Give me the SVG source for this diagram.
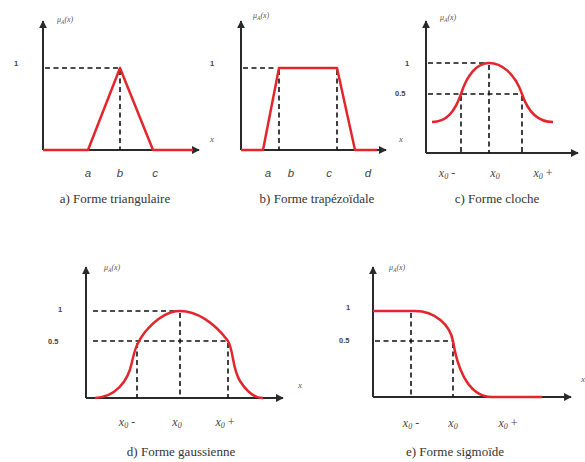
<svg xmlns="http://www.w3.org/2000/svg" width="585" height="462" viewBox="0 0 585 462">
<style>
.ax{stroke:#2a2a2a;stroke-width:2;fill:none;marker-end:url(#ah)}
.rd{stroke:#e2262c;stroke-width:2.5;fill:none;stroke-linejoin:round}
.ds{stroke:#111;stroke-width:1.6;stroke-dasharray:5,3.5;fill:none}
.num{font-family:"Liberation Sans",Arial,sans-serif;font-size:7.5px;font-weight:bold;fill:#444}
.mu{font-family:"Liberation Serif","Times New Roman",serif;font-size:8px;font-style:italic;fill:#555}
.xl{font-family:"Liberation Serif","Times New Roman",serif;font-size:9px;font-style:italic;fill:#555}
.tk{font-family:"Liberation Sans",Arial,sans-serif;font-size:11.5px;font-style:italic;fill:#444;text-anchor:middle}
.x0{font-family:"Liberation Serif","Times New Roman",serif;font-size:12px;font-style:italic;fill:#444;text-anchor:middle}
.cap{font-family:"Liberation Serif","Times New Roman",serif;font-size:13px;fill:#333;text-anchor:middle}
</style>
<defs>
<marker id="ah" viewBox="0 0 10 10" refX="9" refY="5" markerWidth="4" markerHeight="4" orient="auto" markerUnits="strokeWidth">
<path d="M0,0 L10,5 L0,10 z" fill="#2a2a2a"/>
</marker>
</defs>
<rect width="585" height="462" fill="#fff"/>

<g id="panel-a">
<path class="ax" d="M43,150 L43,21"/>
<path class="ax" d="M43,150 L199,150"/>
<path class="ds" d="M45,68 L118,68 M120,70 L120,150"/>
<path class="rd" d="M43,150 L88,150 L120,68 L153,150 L193,150"/>
<text class="num" x="14" y="66">1</text>
<text class="mu" x="57" y="22">μ<tspan font-size="5.5" dy="1.5">A</tspan><tspan dy="-1.5">(x)</tspan></text>
<text class="tk" x="88" y="177">a</text>
<text class="tk" x="120" y="177">b</text>
<text class="tk" x="155" y="177">c</text>
<text class="cap" x="115" y="203">a) Forme triangulaire</text>
</g>

<g id="panel-b">
<path class="ax" d="M241,150 L241,21"/>
<path class="ax" d="M241,150 L386,150"/>
<path class="ds" d="M243,68 L277,68 M279,70 L279,150 M337,70 L337,150"/>
<path class="rd" d="M241,150 L263,150 L279,68 L337,68 L355,150 L377,150"/>
<text class="num" x="210" y="66">1</text>
<text class="xl" x="210" y="142">x</text>
<text class="mu" x="253" y="18">μ<tspan font-size="5.5" dy="1.5">A</tspan><tspan dy="-1.5">(x)</tspan></text>
<text class="tk" x="268" y="177">a</text>
<text class="tk" x="291" y="177">b</text>
<text class="tk" x="329" y="177">c</text>
<text class="tk" x="368" y="177">d</text>
<text class="cap" x="317" y="203">b) Forme trapézoïdale</text>
</g>

<g id="panel-c">
<path class="ax" d="M426,153 L426,21"/>
<path class="ax" d="M426,153 L578,153"/>
<path class="ds" d="M428,63 L489,63 M428,94 L522,94 M461,96 L461,153 M489,65 L489,153 M522,96 L522,153"/>
<path class="rd" d="M432,122 C447,122 455,111 461,94 C467,75 477,63 489,63 C501,63 515,73 522,94 C528,112 538,122 553,122"/>
<text class="num" x="405" y="66">1</text>
<text class="num" x="395" y="96">0.5</text>
<text class="xl" x="399" y="142">x</text>
<text class="mu" x="440" y="20">μ<tspan font-size="5.5" dy="1.5">A</tspan><tspan dy="-1.5">(x)</tspan></text>
<text class="x0" x="447" y="177">x<tspan font-size="8" dy="2">0</tspan><tspan dy="-2" font-style="normal"> -</tspan></text>
<text class="x0" x="495" y="177">x<tspan font-size="8" dy="2">0</tspan></text>
<text class="x0" x="543" y="177">x<tspan font-size="8" dy="2">0</tspan><tspan dy="-2" font-style="normal"> +</tspan></text>
<text class="cap" x="497" y="203">c) Forme cloche</text>
</g>

<g id="panel-d">
<path class="ax" d="M86,398 L86,267"/>
<path class="ax" d="M86,398 L283,398"/>
<path class="ds" d="M93,311 L180,311 M93,341 L228,341 M137,343 L137,398 M180,313 L180,398 M228,343 L228,398"/>
<path class="rd" d="M95,398 C115,397 128,382 132,362 C135,348 138,341 145,332 C156,319 168,311 180,311 C196,311 214,322 228,341 C234,352 232,368 240,381 C247,392 255,398 263,398"/>
<text class="num" x="58" y="312">1</text>
<text class="num" x="48" y="344">0.5</text>
<text class="xl" x="298" y="388">x</text>
<text class="mu" x="104" y="270">μ<tspan font-size="5.5" dy="1.5">A</tspan><tspan dy="-1.5">(x)</tspan></text>
<text class="x0" x="127" y="426">x<tspan font-size="8" dy="2">0</tspan><tspan dy="-2" font-style="normal"> -</tspan></text>
<text class="x0" x="177" y="426">x<tspan font-size="8" dy="2">0</tspan></text>
<text class="x0" x="225" y="426">x<tspan font-size="8" dy="2">0</tspan><tspan dy="-2" font-style="normal"> +</tspan></text>
<text class="cap" x="181" y="456">d) Forme gaussienne</text>
</g>

<g id="panel-e">
<path class="ax" d="M373,397 L373,267"/>
<path class="ax" d="M373,397 L571,397"/>
<path class="ds" d="M375,341 L453,341 M411,313 L411,397 M453,343 L453,397"/>
<path class="rd" d="M373,311 L415,311 C435,311 450,325 453,341 C456,360 465,397 492,397 L542,397"/>
<text class="num" x="346" y="310">1</text>
<text class="num" x="339" y="343">0.5</text>
<text class="xl" x="581" y="382">x</text>
<text class="mu" x="389" y="270">μ<tspan font-size="5.5" dy="1.5">A</tspan><tspan dy="-1.5">(x)</tspan></text>
<text class="x0" x="411" y="427">x<tspan font-size="8" dy="2">0</tspan><tspan dy="-2" font-style="normal"> -</tspan></text>
<text class="x0" x="453" y="427">x<tspan font-size="8" dy="2">0</tspan></text>
<text class="x0" x="508" y="427">x<tspan font-size="8" dy="2">0</tspan><tspan dy="-2" font-style="normal"> +</tspan></text>
<text class="cap" x="455" y="456">e) Forme sigmoïde</text>
</g>
</svg>
